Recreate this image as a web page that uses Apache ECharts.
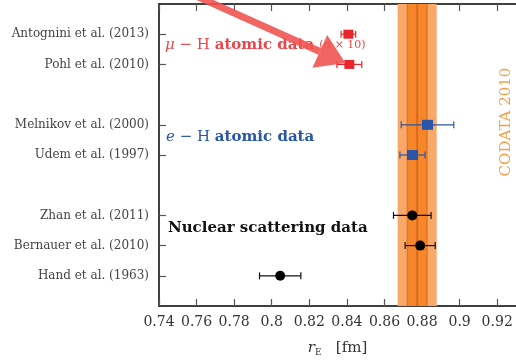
<!DOCTYPE html>
<html>
<head>
<meta charset="utf-8">
<script src="https://cdn.jsdelivr.net/npm/echarts@6/dist/echarts.min.js"></script>
<style>
  html, body { margin: 0; padding: 0; background: #fff; }
  #chart { width: 516px; height: 362px; }
</style>
</head>
<body>
<div id="chart"></div>
<script>
// row labels (bottom to top) and their row positions on the y axis
const studies = ['Hand et al. (1963)', 'Bernauer et al. (2010)', 'Zhan et al. (2011)',
  'Udem et al. (1997)', 'Melnikov et al. (2000)', 'Pohl et al. (2010)', 'Antognini et al. (2013)'];
const rows = [1, 2, 3, 5, 6, 8, 9];

// r_E values [fm] and 1-sigma errors (mu-H errors shown x10)
const nuclearRows = [1, 2, 3];
const nuclearR = [0.8045, 0.879, 0.8748];
const nuclearErr = [0.011, 0.008, 0.010];

const eHRows = [5, 6];
const eHR = [0.8749, 0.8829];
const eHErr = [0.0067, 0.014];

const muHRows = [8, 9];
const muHR = [0.8413, 0.8408];
const muHErr = [0.0066, 0.0039];

// CODATA 2010
const codataR = 0.8774;
const codataSigma = 0.0052;

// arrow annotation (data space): tail and tip
const arrowTail = [0.7585, 10.3];
const arrowTip = [0.8392, 8.05];

const xTicks = [0.74, 0.76, 0.78, 0.8, 0.82, 0.84, 0.86, 0.88, 0.9, 0.92];

const serif = 'DejaVu Serif';
const red = '#e8242c';
const blue = '#2a56a8';
const orangeLight = '#f8a868';
const orangeMid = '#f5862a';
const orangeLine = '#e8741f';

function pts(xs, ys) { return xs.map((v, i) => [v, ys[i]]); }
function errs(xs, es, ys) { return xs.map((v, i) => [v - es[i], v + es[i], ys[i]]); }

function errRender(color) {
  return function (params, api) {
    const a = api.coord([api.value(0), api.value(2)]);
    const b = api.coord([api.value(1), api.value(2)]);
    const h = 3.5;
    const st = { stroke: color, lineWidth: 1.2 };
    return {
      type: 'group',
      children: [
        { type: 'line', shape: { x1: a[0], y1: a[1], x2: b[0], y2: b[1] }, style: st },
        { type: 'line', shape: { x1: a[0], y1: a[1] - h, x2: a[0], y2: a[1] + h }, style: st },
        { type: 'line', shape: { x1: b[0], y1: b[1] - h, x2: b[0], y2: b[1] + h }, style: st }
      ]
    };
  };
}

// CODATA band: 2-sigma light, 1-sigma mid, lines at centre and +-1 sigma
function bandRender(params, api) {
  const c = api.value(0), s = api.value(1);
  const top = api.coord([c, 10])[1], bot = api.coord([c, 0])[1];
  const px = v => api.coord([v, 0])[0];
  const rect = (a, b, fill) => ({ type: 'rect', shape: { x: px(a), y: top, width: px(b) - px(a), height: bot - top }, style: { fill: fill } });
  const vline = (v, color, w) => ({ type: 'line', shape: { x1: px(v), y1: top, x2: px(v), y2: bot }, style: { stroke: color, lineWidth: w } });
  return {
    type: 'group',
    children: [
      rect(c - 2 * s, c + 2 * s, orangeLight),
      rect(c - s, c + s, orangeMid),
      vline(c - s, orangeLine, 1.5),
      vline(c, '#dc681c', 2),
      vline(c + s, orangeLine, 1.5)
    ]
  };
}

function arrowRender(params, api) {
  const t = api.coord([api.value(0), api.value(1)]);
  const p = api.coord([api.value(2), api.value(3)]);
  const dx = p[0] - t[0], dy = p[1] - t[1];
  const len = Math.sqrt(dx * dx + dy * dy);
  const ux = dx / len, uy = dy / len, nx = -uy, ny = ux;
  const headLen = 28, headW = 18, w = 3.5;
  const bx = p[0] - ux * headLen, by = p[1] - uy * headLen;
  return {
    type: 'group',
    children: [
      { type: 'polygon', shape: { points: [
          [t[0] + nx * w, t[1] + ny * w], [bx + nx * w, by + ny * w],
          [bx - nx * w, by - ny * w], [t[0] - nx * w, t[1] - ny * w]] },
        style: { fill: '#ef5452', opacity: 0.9 } },
      { type: 'polygon', shape: { points: [
          [p[0], p[1]], [bx + nx * headW, by + ny * headW], [bx - nx * headW, by - ny * headW]] },
        style: { fill: '#ef5452', opacity: 0.9 } }
    ]
  };
}

const chart = echarts.init(document.getElementById('chart'), null, { renderer: 'canvas' });

const xBase = {
  type: 'value', min: 0.74, max: 0.93, interval: 0.02,
  axisLine: { lineStyle: { color: '#000', width: 1.5 } },
  axisTick: { inside: true, length: 7, customValues: xTicks, lineStyle: { color: '#555', width: 1.2 } },
  splitLine: { show: false }
};

const option = {
  animation: false,
  grid: { left: 159, top: 4, right: 0, bottom: 56 },
  xAxis: [Object.assign({}, xBase, {
    axisLabel: {
      customValues: xTicks, margin: 9,
      fontFamily: serif, fontSize: 14, color: '#333',
      formatter: v => String(+v.toFixed(2))
    },
    name: '{r|r}{sub|E}{u|   [fm]}', nameLocation: 'middle', nameGap: 34,
    nameTextStyle: {
      rich: {
        r: { fontFamily: serif, fontStyle: 'italic', fontSize: 15, color: '#333' },
        sub: { fontFamily: serif, fontSize: 9, color: '#333', padding: [8, 0, 0, 0] },
        u: { fontFamily: serif, fontSize: 15, color: '#333' }
      }
    }
  }), Object.assign({}, xBase, {
    position: 'top',
    axisLabel: { show: false }
  })],
  yAxis: {
    type: 'value', min: 0, max: 10, interval: 1,
    axisLine: { show: true, lineStyle: { color: '#000', width: 1.5 } },
    axisTick: { inside: true, length: 7, customValues: rows, lineStyle: { color: '#555', width: 1.2 } },
    axisLabel: {
      customValues: rows, margin: 10,
      fontFamily: serif, fontSize: 12, color: '#444',
      formatter: v => studies[rows.indexOf(v)] || ''
    },
    splitLine: { show: false }
  },
  series: [
    { type: 'custom', renderItem: bandRender, data: [[codataR, codataSigma]], z: 1, silent: true },
    { type: 'custom', renderItem: errRender('#111'), data: errs(nuclearR, nuclearErr, nuclearRows), z: 3 },
    { type: 'custom', renderItem: errRender(blue), data: errs(eHR, eHErr, eHRows), z: 3 },
    { type: 'custom', renderItem: errRender(red), data: errs(muHR, muHErr, muHRows), z: 3 },
    { type: 'scatter', data: pts(nuclearR, nuclearRows), symbol: 'circle', symbolSize: 10, itemStyle: { color: '#000', opacity: 1 }, z: 4 },
    { type: 'scatter', data: pts(eHR, eHRows), symbol: 'rect', symbolSize: [11, 10], itemStyle: { color: blue, opacity: 1 }, z: 4 },
    { type: 'scatter', data: pts(muHR, muHRows), symbol: 'rect', symbolSize: [10, 9], itemStyle: { color: red, opacity: 1 }, z: 4 },
    { type: 'custom', renderItem: arrowRender, data: [[arrowTail[0], arrowTail[1], arrowTip[0], arrowTip[1]]], clip: false, z: 6, silent: true }
  ],
  graphic: [
    {
      type: 'text', left: 165, top: 38, z: 5,
      style: {
        text: '{m|μ}{n| − H }{b|atomic data }{s|(σ × 10)}',
        rich: {
          m: { fontFamily: serif, fontStyle: 'italic', fontSize: 15, fill: '#e8464a' },
          n: { fontFamily: serif, fontSize: 15, fill: '#e8464a' },
          b: { fontFamily: serif, fontWeight: 'bold', fontSize: 15, fill: '#e8464a' },
          s: { fontFamily: serif, fontSize: 11, fill: '#e8464a' }
        }
      }
    },
    {
      type: 'text', left: 166, top: 130, z: 5,
      style: {
        text: '{m|e}{n| − H }{b|atomic data}',
        rich: {
          m: { fontFamily: serif, fontStyle: 'italic', fontSize: 15, fill: blue },
          n: { fontFamily: serif, fontSize: 15, fill: blue },
          b: { fontFamily: serif, fontWeight: 'bold', fontSize: 15, fill: blue }
        }
      }
    },
    {
      type: 'text', left: 168, top: 221, z: 5,
      style: { text: 'Nuclear scattering data', fontFamily: serif, fontWeight: 'bold', fontSize: 15, fill: '#111' }
    },
    {
      type: 'text', x: 506, y: 122, rotation: Math.PI / 2, z: 5,
      style: { text: 'CODATA 2010', fontFamily: serif, fontSize: 15, fill: '#f5a04a', align: 'center', verticalAlign: 'middle' }
    }
  ]
};

chart.setOption(option);
</script>
</body>
</html>
